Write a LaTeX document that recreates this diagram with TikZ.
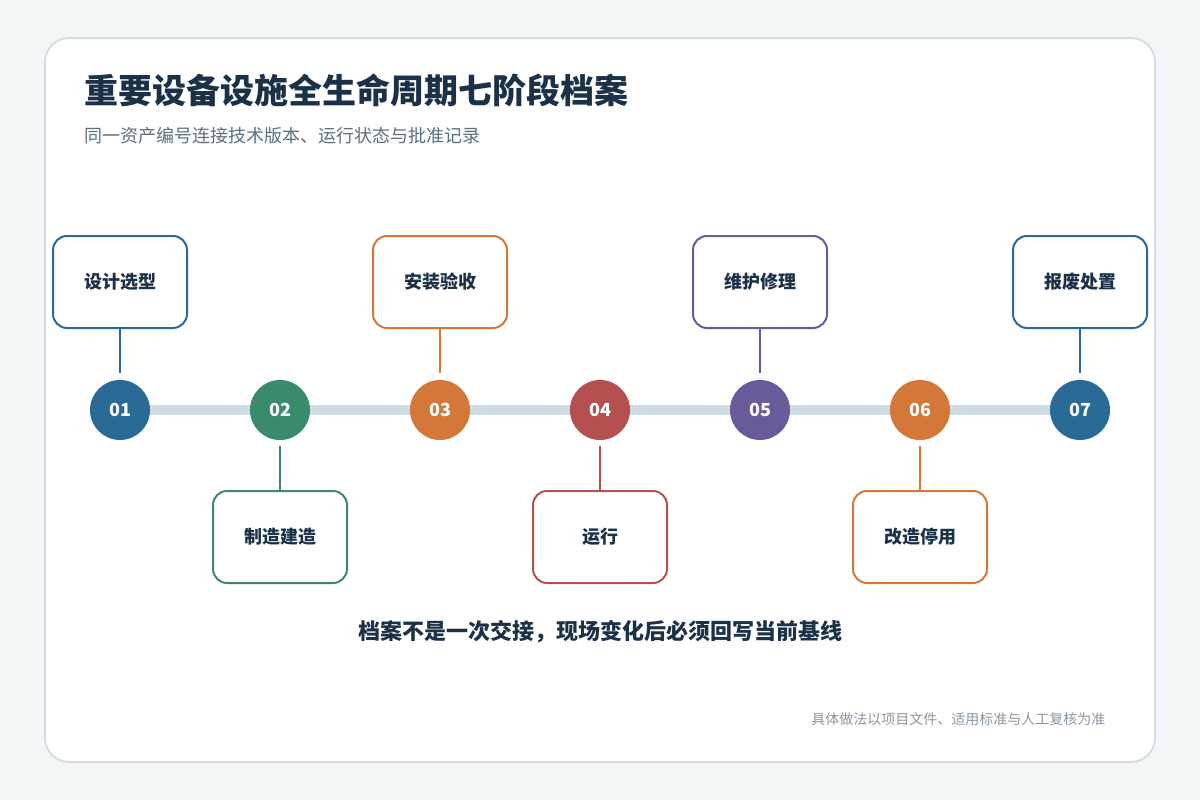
\documentclass[tikz,border=0pt]{standalone}
\usepackage{fontspec}
\setmainfont{Noto Sans CJK SC}
\newfontfamily\cjkb{Noto Sans CJK SC}[FakeBold=0]
\definecolor{bg}{HTML}{F3F6F7}
\definecolor{cardb}{HTML}{D5DCE0}
\definecolor{ink}{HTML}{1B3148}
\definecolor{sub}{HTML}{5C6F80}
\definecolor{foot}{HTML}{8A97A2}
\definecolor{track}{HTML}{CDDCE3}
\definecolor{cA}{HTML}{2A6A96}
\definecolor{cB}{HTML}{3A8A6C}
\definecolor{cC}{HTML}{D4783A}
\definecolor{cD}{HTML}{B55050}
\definecolor{cE}{HTML}{6A5A9A}
\begin{document}
\begin{tikzpicture}[x=0.75pt,y=-0.75pt,
  dot/.style={circle,minimum size=45pt,inner sep=0,text=white,font=\bfseries\fontsize{13.5}{15}\selectfont},
  box/.style={draw,line width=1.5pt,rounded corners=10.5pt,fill=white,minimum width=100.5pt,minimum height=69pt,text=ink,font=\bfseries\fontsize{13.5}{15}\selectfont},
  stem/.style={line width=2.2pt}]
\fill[bg] (0,0) rectangle (1200,800);
\useasboundingbox (0,0) rectangle (1200,800);
\draw[cardb,fill=white,line width=1.5pt,rounded corners=18pt] (45,38) rectangle (1155,762);
\node[anchor=west,text=ink,font=\bfseries\fontsize{25.5}{28}\selectfont] (title) at (80,90) {重要设备设施全生命周期七阶段档案};
\node[anchor=west,text=sub,font=\fontsize{13.5}{15}\selectfont] (subt) at (80,136) {同一资产编号连接技术版本、运行状态与批准记录};
\coordinate (ls) at (120,410); \coordinate (le) at (1080,410);
\draw[track,line width=7.5pt] (ls) -- (le);
\foreach \i/\n/\c/\t/\up in {1/01/cA/设计选型/1,2/02/cB/制造建造/0,3/03/cC/安装验收/1,4/04/cD/运行/0,5/05/cE/维护修理/1,6/06/cC/改造停用/0,7/07/cA/报废处置/1}{
  \pgfmathsetmacro{\xx}{120+160*(\i-1)}
  \node[dot,fill=\c] (d\i) at (\xx,410) {\n};
  \ifnum\up=1
    \node[box,draw=\c] (b\i) at (\xx,282) {\t};
    \coordinate (s\i) at (\xx,373);
    \draw[stem,\c] (b\i.south) -- (s\i);
  \else
    \node[box,draw=\c] (b\i) at (\xx,537) {\t};
    \coordinate (s\i) at (\xx,446);
    \draw[stem,\c] (s\i) -- (b\i.north);
  \fi
}
\node[text=ink,font=\bfseries\fontsize{16.5}{18}\selectfont] (note) at (600,632) {档案不是一次交接，现场变化后必须回写当前基线};
\node[anchor=east,text=foot,font=\fontsize{10.5}{12}\selectfont] (foot) at (1110,719) {具体做法以项目文件、适用标准与人工复核为准};
\end{tikzpicture}
\end{document}
